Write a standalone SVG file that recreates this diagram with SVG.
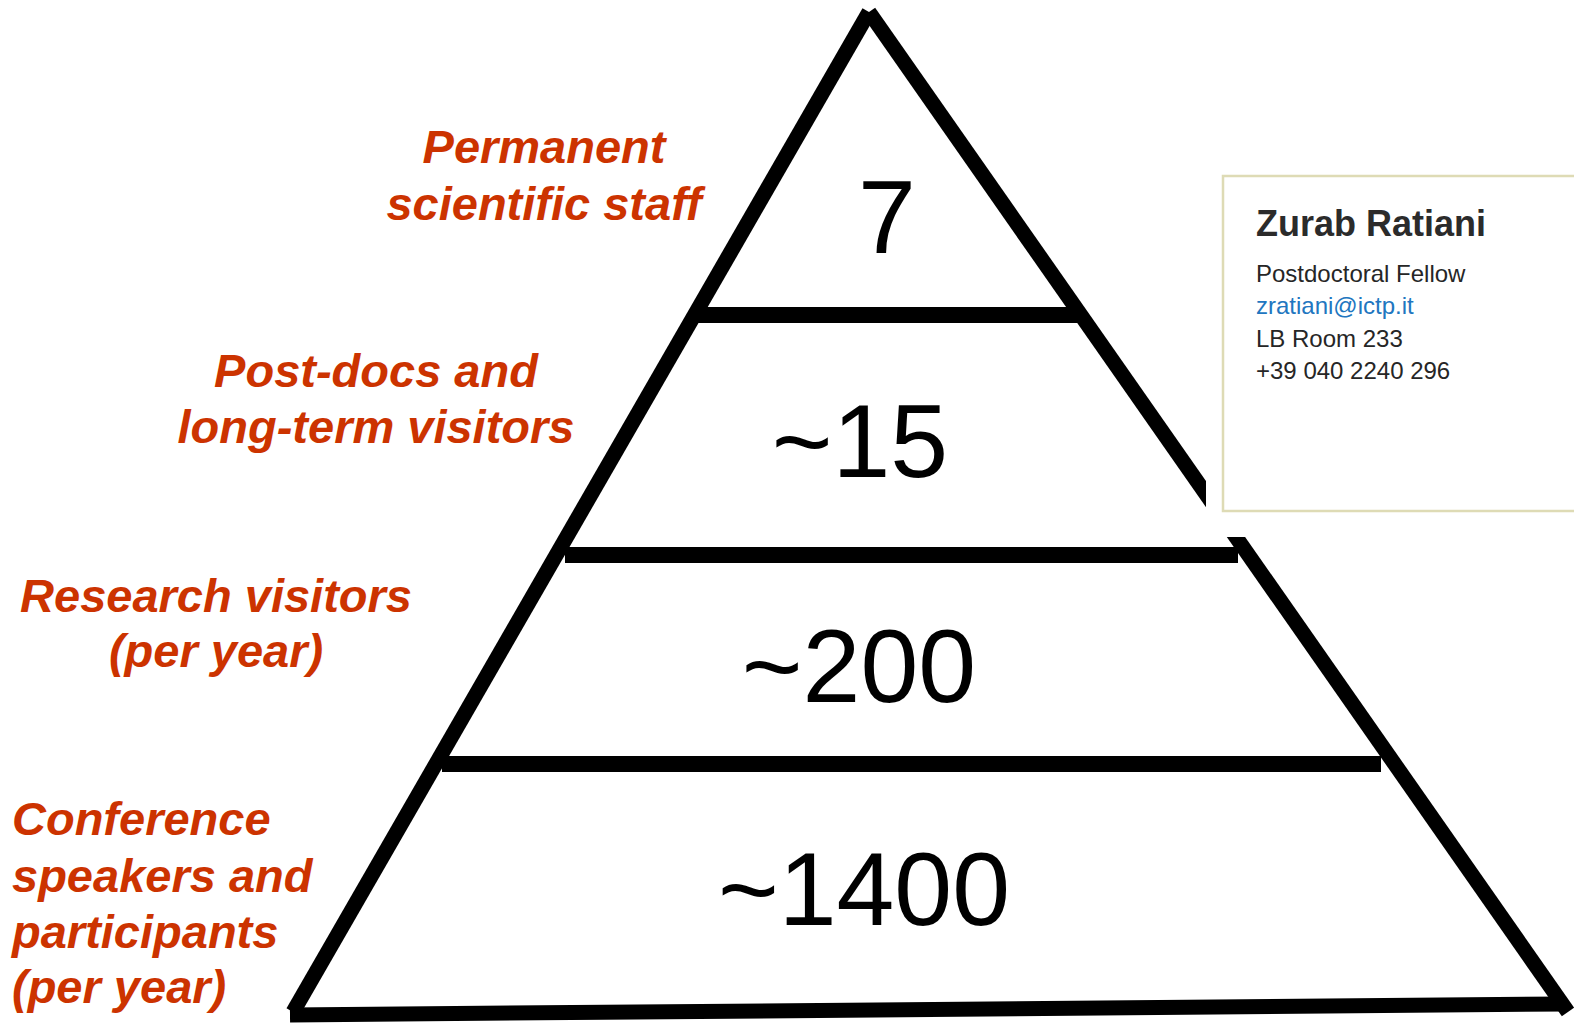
<svg xmlns="http://www.w3.org/2000/svg" width="1574" height="1023" viewBox="0 0 1574 1023">
<style>
.ln{stroke:#000;stroke-width:15;fill:none;stroke-linecap:butt}
.lbl{font-family:"Liberation Sans",Arial,sans-serif;font-weight:bold;font-style:italic;font-size:47px;fill:#CC3300}
.num{font-family:"Liberation Sans",Arial,sans-serif;font-size:104px;fill:#000;text-anchor:middle}
.card{font-family:"Liberation Sans",Arial,sans-serif;font-size:24px;fill:#262626}
</style>
<rect width="1574" height="1023" fill="#fff"/>
<g id="connectors">
<line class="ln" x1="293" y1="1012" x2="869" y2="12"/>
<line class="ln" x1="869" y1="12" x2="1568" y2="1012"/>
<line class="ln" x1="697" y1="315" x2="1080" y2="315" style="stroke-width:16"/>
<line class="ln" x1="565" y1="555" x2="1238" y2="555" style="stroke-width:16"/>
<line class="ln" x1="442" y1="764" x2="1381" y2="764" style="stroke-width:16"/>
<line class="ln" x1="290" y1="1015" x2="1566" y2="1004" style="stroke-width:15"/>
</g>
<rect x="1206" y="0" width="368" height="537" fill="#fff"/>
<g id="tier1">
<text class="num" x="887" y="253">7</text>
<text class="lbl" text-anchor="middle"><tspan x="544" y="163">Permanent</tspan><tspan x="544" y="220">scientific staff</tspan></text>
</g>
<g id="tier2">
<text class="num" x="860" y="477">~15</text>
<text class="lbl" text-anchor="middle"><tspan x="376" y="387">Post-docs and</tspan><tspan x="376" y="443">long-term visitors</tspan></text>
</g>
<g id="tier3">
<text class="num" x="859" y="702">~200</text>
<text class="lbl" text-anchor="middle"><tspan x="216" y="612">Research visitors</tspan><tspan x="216" y="667">(per year)</tspan></text>
</g>
<g id="tier4">
<text class="num" x="864" y="925">~1400</text>
<text class="lbl"><tspan x="12" y="835">Conference</tspan><tspan x="12" y="892">speakers and</tspan><tspan x="12" y="948">participants</tspan><tspan x="12" y="1003">(per year)</tspan></text>
</g>
<g id="card">
<rect x="1223" y="176" width="400" height="335" fill="#fff" stroke="#DEDBB5" stroke-width="2.5"/>
<text class="card" x="1256" y="236" style="font-size:36px;font-weight:bold;fill:#2b2b2b">Zurab Ratiani</text>
<text class="card" x="1256" y="282">Postdoctoral Fellow</text>
<text class="card" x="1256" y="314" style="fill:#2176C0">zratiani@ictp.it</text>
<text class="card" x="1256" y="347">LB Room 233</text>
<text class="card" x="1256" y="379">+39 040 2240 296</text>
</g>
</svg>
